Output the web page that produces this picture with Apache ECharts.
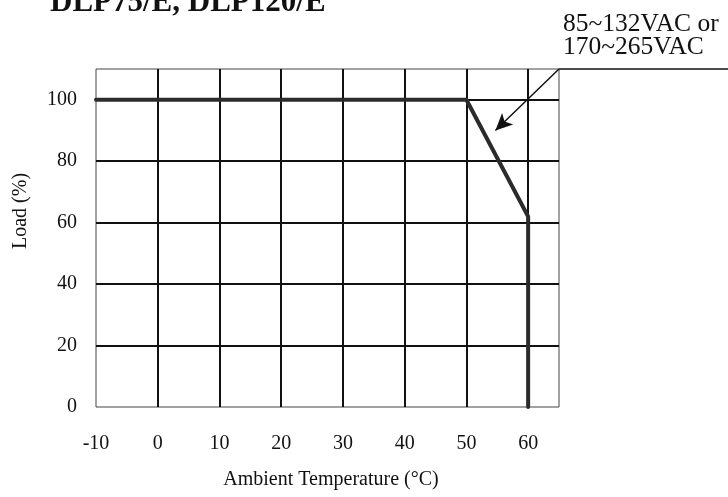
<!DOCTYPE html>
<html>
<head>
<meta charset="utf-8">
<script src="https://cdn.jsdelivr.net/npm/echarts@6/dist/echarts.min.js"></script>
<style>
  html, body { margin: 0; padding: 0; background: #fff; }
  #chart { width: 728px; height: 497px; }
</style>
</head>
<body>
<div id="chart"></div>
<script>
// Derating curve: load (%) versus ambient temperature (°C)
const temperature = [-10, 50, 60, 60];
const loadPct = [100, 100, 62, 0];

// Axis ranges and tick steps
const xRange = [-10, 65];
const xStep = 10;
const yRange = [0, 110];
const yStep = 20;

// Annotation arrow, in data units (from the plot corner to the curve)
const arrowFrom = [65, 110];
const arrowTo = [54.7, 90];

// Texts
const titleText = 'DLP75/E, DLP120/E';
const noteLines = ['85~132VAC or', '170~265VAC'];
const xName = 'Ambient Temperature (°C)';
const yName = 'Load (%)';

const SERIF = '"Liberation Serif", "Times New Roman", Times, serif';
const INK = '#111';

const chart = echarts.init(document.getElementById('chart'), null, { renderer: 'canvas' });

const labelStyle = { fontFamily: SERIF, fontSize: 20, color: INK };
const gridLine = { show: true, showMinLine: false, showMaxLine: false, lineStyle: { color: INK, width: 2, type: 'solid' } };

chart.setOption({
  animation: false,
  backgroundColor: '#fff',
  grid: {
    left: 96, right: 169, top: 69, bottom: 90,
    show: true, borderColor: '#444', borderWidth: 1, containLabel: false
  },
  xAxis: {
    type: 'value',
    min: xRange[0], max: xRange[1], interval: xStep,
    axisLine: { show: false },
    axisTick: { show: false },
    axisLabel: Object.assign({ margin: 27, showMaxLabel: false, showMinLabel: true }, labelStyle),
    splitLine: gridLine
  },
  yAxis: {
    type: 'value',
    min: yRange[0], max: yRange[1], interval: yStep,
    axisLine: { show: false },
    axisTick: { show: false },
    axisLabel: Object.assign({ margin: 19, showMaxLabel: false, showMinLabel: true }, labelStyle),
    splitLine: gridLine
  },
  series: [{
    type: 'line',
    data: temperature.map((t, i) => [t, loadPct[i]]),
    symbol: 'none',
    z: 5,
    lineStyle: { color: '#2b2b2b', width: 4, join: 'round', cap: 'round' },
    emphasis: { disabled: true },
    markLine: {
      silent: true,
      animation: false,
      symbol: ['none', 'arrow'],
      symbolSize: [12, 17],
      label: { show: false },
      lineStyle: { color: INK, width: 1.5, type: 'solid' },
      emphasis: { disabled: true },
      data: [[{ coord: arrowFrom }, { coord: arrowTo }]]
    }
  }],
  graphic: [
    {
      id: 'title', type: 'text', left: 50, top: -13,
      style: { text: titleText, font: 'bold 31px ' + SERIF, fill: INK, lineHeight: 31 }
    },
    {
      id: 'note', type: 'text', left: 563, top: 11,
      style: { text: noteLines.join('\n'), font: '25.5px ' + SERIF, fill: INK, lineHeight: 23.5 }
    },
    {
      id: 'xname', type: 'text', x: 331, y: 480,
      style: { text: xName, font: '20px ' + SERIF, fill: INK, align: 'center', verticalAlign: 'middle' }
    },
    {
      id: 'yname', type: 'text', x: 21, y: 211, rotation: Math.PI / 2,
      style: { text: yName, font: '20px ' + SERIF, fill: INK, align: 'center', verticalAlign: 'middle' }
    }
  ]
});

// Leader line under the note, running from the plot's top-right corner to the page edge
const corner = chart.convertToPixel({ gridIndex: 0 }, arrowFrom);
chart.setOption({
  graphic: [{
    id: 'leader', type: 'line', silent: true, z: 10,
    shape: { x1: corner[0], y1: corner[1], x2: chart.getWidth(), y2: corner[1] },
    style: { stroke: INK, lineWidth: 1.5 }
  }]
});
</script>
</body>
</html>
